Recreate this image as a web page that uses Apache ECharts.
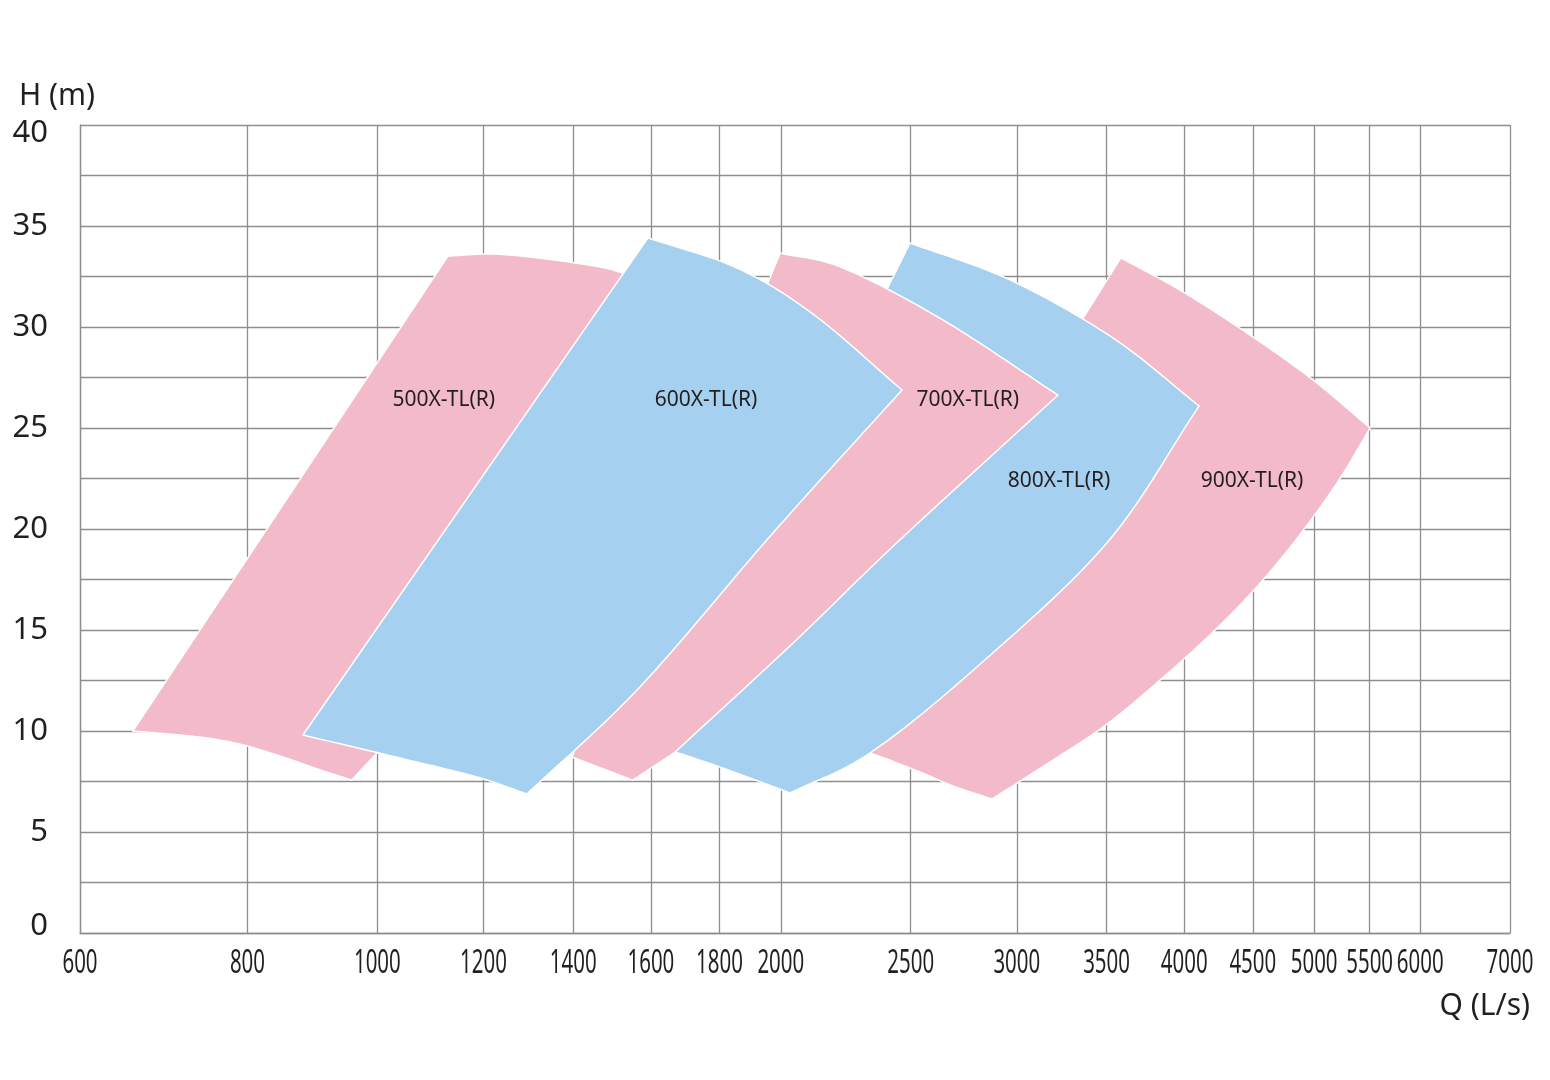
<!DOCTYPE html>
<html>
<head>
<meta charset="utf-8">
<script src="https://cdn.jsdelivr.net/npm/echarts@6/dist/echarts.min.js"></script>
<style>
  html, body { margin: 0; padding: 0; background: #fff; }
  #chart { width: 1550px; height: 1080px; }
</style>
</head>
<body>
<div id="chart"></div>
<script>
// ---- data (Q in L/s, H in m) ----
const xTicks = [600, 800, 1000, 1200, 1400, 1600, 1800, 2000, 2500, 3000, 3500, 4000, 4500, 5000, 5500, 6000, 7000];
const yRange = [0, 40];

const pumpNames = ['500X-TL(R)', '600X-TL(R)', '700X-TL(R)', '800X-TL(R)', '900X-TL(R)'];

// boundary of each pump's operating region, as consecutive edges  [Q, H]
const pump500 = [
  [[657, 10.0], [1129, 33.51]],
  [[1129, 33.51], [1220, 33.61], [1336, 33.37], [1466, 32.97], [1525, 32.67], [1570, 32.43], [1625, 31.83]],
  [[1625, 31.83], [1001, 8.96]],
  [[1001, 8.96], [957, 7.57]],
  [[957, 7.57], [902, 8.12], [850, 8.71], [794, 9.31], [737, 9.70], [657, 10.0]]
];
const pump600 = [
  [[880, 9.80], [1592, 34.41]],
  [[1592, 34.41], [1855, 32.92], [2114, 30.64], [2463, 26.88]],
  [[2463, 26.88], [1973, 19.80], [1570, 12.18], [1293, 6.88]],
  [[1293, 6.88], [1187, 7.72], [1040, 8.66], [880, 9.80]]
];
const pump700 = [
  [[1397, 8.71], [1998, 33.66]],
  [[1998, 33.66], [2226, 32.92], [2642, 30.35], [3220, 26.63]],
  [[3220, 26.63], [2454, 19.46], [2043, 14.36], [1668, 8.96]],
  [[1668, 8.96], [1551, 7.57]],
  [[1551, 7.57], [1397, 8.71]]
];
const pump800 = [
  [[1625, 9.21], [2497, 34.16]],
  [[2497, 34.16], [2965, 32.33], [3538, 29.46], [4103, 26.09]],
  [[4103, 26.09], [3502, 19.31], [2801, 13.17], [2331, 8.91], [2032, 6.93]],
  [[2032, 6.93], [1792, 8.27], [1625, 9.21]]
];
const pump900 = [
  [[2140, 9.65], [3587, 33.42]],
  [[3587, 33.42], [3971, 31.83], [4456, 29.70], [4990, 27.38], [5505, 25.0]],
  [[5505, 25.0], [5229, 22.52], [4922, 20.05], [4580, 17.48], [4218, 15.0], [3837, 12.52], [3496, 10.30], [3192, 8.56], [2875, 6.63]],
  [[2875, 6.63], [2688, 7.28], [2540, 7.97], [2331, 8.91], [2140, 9.65]]
];

// label anchor of each region [Q, H]
const labelQ = [1121, 1759, 2758, 3226, 4494];
const labelH = [26.4, 26.4, 26.4, 22.4, 22.4];

// ---- chart ----
const PINK = '#f3bac9';
const BLUE = '#a6d0ef';
const TEXT = '#231f20';
const GRIDC = '#8e8e8e';

const outlines = [pump500, pump600, pump700, pump800, pump900];
const colors = [PINK, BLUE, PINK, BLUE, PINK];
// stacking: 900 lowest, then 800, 700, 500, 600 on top
const stackOrder = [3, 4, 2, 1, 0];

const lg = v => Math.log10(v);

// smooth an edge (pixel points) with a Catmull-Rom spline for drawing
function smoothEdge(P) {
  if (P.length < 3) return P.slice();
  const out = [];
  const n = P.length;
  const get = k => {
    if (k < 0) return [2 * P[0][0] - P[1][0], 2 * P[0][1] - P[1][1]];
    if (k >= n) return [2 * P[n - 1][0] - P[n - 2][0], 2 * P[n - 1][1] - P[n - 2][1]];
    return P[k];
  };
  const steps = 16;
  for (let i = 0; i < n - 1; i++) {
    const p0 = get(i - 1), p1 = get(i), p2 = get(i + 1), p3 = get(i + 2);
    for (let s = 0; s < steps; s++) {
      const t = s / steps, t2 = t * t, t3 = t2 * t;
      const f = (a, b, c, d) => 0.5 * ((2 * b) + (-a + c) * t + (2 * a - 5 * b + 4 * c - d) * t2 + (-a + 3 * b - 3 * c + d) * t3);
      out.push([f(p0[0], p1[0], p2[0], p3[0]), f(p0[1], p1[1], p2[1], p3[1])]);
    }
  }
  out.push(P[n - 1]);
  return out;
}

const seriesData = pumpNames.map((n, i) => [lg(labelQ[i]), labelH[i], i]);
const xLabelData = xTicks.map(t => [lg(t), yRange[0]]);

const chart = echarts.init(document.getElementById('chart'), null, { renderer: 'canvas' });

chart.setOption({
  backgroundColor: '#fff',
  animation: false,
  grid: { left: 80, right: 40, top: 125, bottom: 147 },
  xAxis: {
    type: 'value',
    min: lg(xTicks[0]),
    max: lg(xTicks[xTicks.length - 1]),
    name: 'Q (L/s)',
    nameLocation: 'end',
    nameGap: 20,
    nameTextStyle: {
      fontFamily: '"Noto Sans", sans-serif', fontSize: 30, color: TEXT,
      align: 'right', verticalAlign: 'top', padding: [58, 0, 0, 0]
    },
    axisLine: { show: true, lineStyle: { color: GRIDC, width: 1.3 } },
    axisTick: { show: false, customValues: xTicks.map(lg) },
    axisLabel: { show: false, customValues: xTicks.map(lg) },
    splitLine: { show: true, lineStyle: { color: GRIDC, width: 1.3 } }
  },
  yAxis: {
    type: 'value',
    min: yRange[0],
    max: yRange[1],
    interval: 2.5,
    name: 'H (m)',
    nameLocation: 'end',
    nameGap: 14,
    nameTextStyle: {
      fontFamily: '"Noto Sans", sans-serif', fontSize: 30, color: TEXT,
      align: 'center', verticalAlign: 'bottom', padding: [0, 46, 0, 0]
    },
    axisLine: { show: true, lineStyle: { color: GRIDC, width: 1.3 } },
    axisTick: { show: false },
    axisLabel: {
      formatter: v => {
        if (v % 5 !== 0) return '';
        if (v === yRange[1]) return '{top|' + v + '}';
        if (v === yRange[0]) return '{bot|' + v + '}';
        return String(v);
      },
      rich: {
        top: { fontFamily: '"Noto Sans", sans-serif', fontSize: 31, color: TEXT, padding: [16, 0, 0, 0] },
        bot: { fontFamily: '"Noto Sans", sans-serif', fontSize: 31, color: TEXT, padding: [0, 0, 14, 0] }
      },
      fontFamily: '"Noto Sans", sans-serif', fontSize: 31, color: TEXT, margin: 32
    },
    splitLine: { show: true, lineStyle: { color: GRIDC, width: 1.3 } }
  },
  series: [{
    type: 'custom',
    coordinateSystem: 'cartesian2d',
    clip: true,
    silent: true,
    data: seriesData,
    renderItem: function (params, api) {
      const i = api.value(2);
      let pts = [];
      outlines[i].forEach(edge => {
        const px = edge.map(p => api.coord([lg(p[0]), p[1]]));
        const sm = smoothEdge(px);
        pts = pts.concat(pts.length ? sm.slice(1) : sm);
      });
      const c = api.coord([api.value(0), api.value(1)]);
      return {
        type: 'group',
        children: [
          {
            type: 'polygon',
            z2: stackOrder[i],
            shape: { points: pts },
            style: { fill: colors[i], stroke: '#ffffff', lineWidth: 1.5, lineJoin: 'miter' }
          },
          {
            type: 'text',
            z2: 100,
            x: c[0], y: c[1],
            style: {
              text: pumpNames[i], fill: TEXT,
              font: '21px "Noto Sans", sans-serif',
              align: 'center', verticalAlign: 'middle'
            }
          }
        ]
      };
    }
  }, {
    // condensed tick labels of the flow axis, placed with the axis scale
    type: 'custom',
    coordinateSystem: 'cartesian2d',
    clip: false,
    silent: true,
    data: xLabelData,
    renderItem: function (params, api) {
      const p = api.coord([api.value(0), api.value(1)]);
      return {
        type: 'text',
        x: p[0], y: p[1] + 31,
        scaleX: 0.62,
        style: {
          text: String(xTicks[params.dataIndex]), fill: TEXT,
          font: '33px "Noto Sans", sans-serif',
          align: 'center', verticalAlign: 'middle'
        }
      };
    }
  }]
});
</script>
</body>
</html>
